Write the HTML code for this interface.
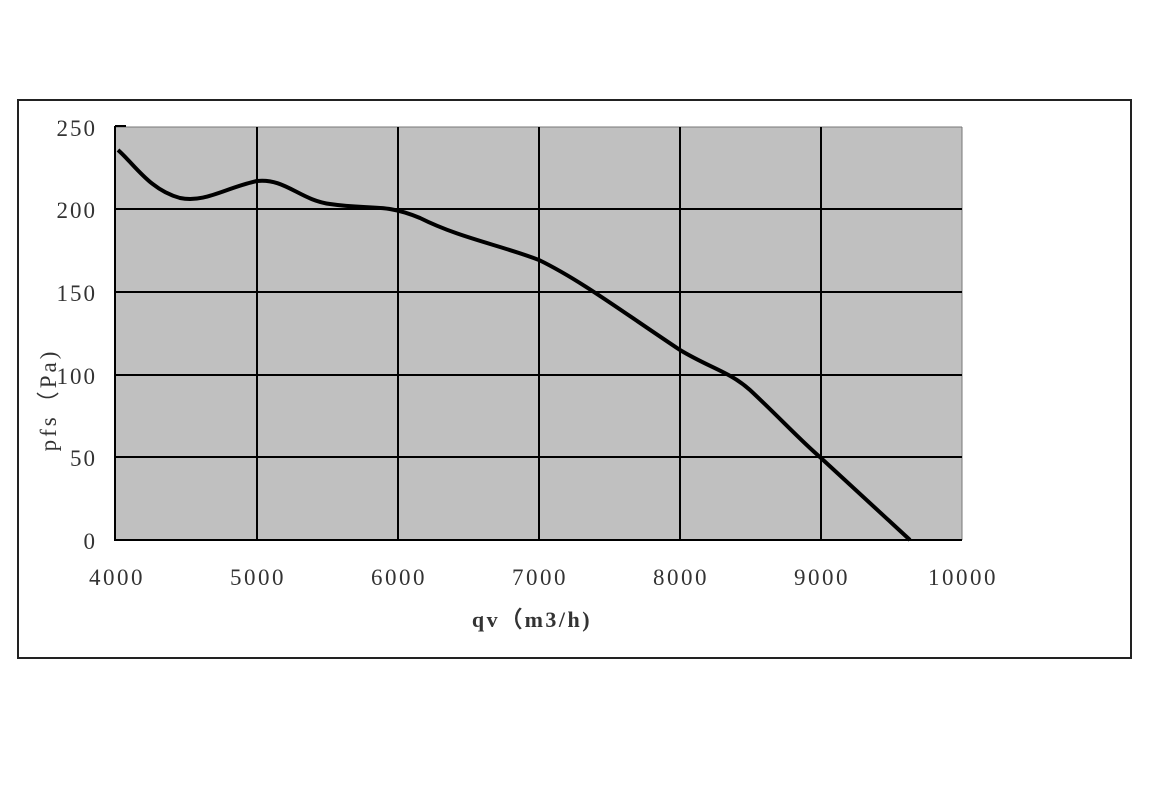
<!DOCTYPE html>
<html><head><style>body{margin:0;background:#fff}</style></head><body>
<svg width="1150" height="789" xmlns="http://www.w3.org/2000/svg" font-family="Liberation Serif, serif">
<rect x="18" y="100" width="1113" height="558" fill="#fff" stroke="#222" stroke-width="2"/>
<rect x="115" y="127" width="847" height="413" fill="#c0c0c0"/>
<g stroke="#000" stroke-width="2">
<line x1="115" y1="127" x2="962" y2="127" stroke="#777" stroke-width="1"/>
<line x1="962" y1="127" x2="962" y2="540" stroke="#777" stroke-width="1"/>
<line x1="115" y1="209" x2="962" y2="209"/>
<line x1="115" y1="292" x2="962" y2="292"/>
<line x1="115" y1="375" x2="962" y2="375"/>
<line x1="115" y1="457" x2="962" y2="457"/>
<line x1="115" y1="540" x2="962" y2="540"/>
<line x1="257" y1="127" x2="257" y2="540"/>
<line x1="398" y1="127" x2="398" y2="540"/>
<line x1="539" y1="127" x2="539" y2="540"/>
<line x1="680" y1="127" x2="680" y2="540"/>
<line x1="821" y1="127" x2="821" y2="540"/>
<line x1="115" y1="126" x2="115" y2="541"/>
<line x1="115" y1="126" x2="126" y2="126"/>
</g>
<path d="M118,150 C135,165 150,190 180,198 C205,203 225,188 257,181 C285,178 300,200 330,204 C370,210 385,203 420,218 C460,238 500,245 539,260 C580,280 620,310 680,350 C710,368 730,372 750,390 C780,418 800,440 821,458 L910,540" fill="none" stroke="#000" stroke-width="4"/>
<g font-size="23" fill="#333" text-anchor="end" letter-spacing="2">
<text x="97" y="136">250</text><text x="97" y="218">200</text><text x="97" y="301">150</text>
<text x="97" y="384">100</text><text x="97" y="466">50</text><text x="97" y="549">0</text>
</g>
<g font-size="23" fill="#333" text-anchor="middle" letter-spacing="2.5">
<text x="117" y="585">4000</text><text x="258" y="585">5000</text><text x="399" y="585">6000</text>
<text x="540" y="585">7000</text><text x="681" y="585">8000</text><text x="822" y="585">9000</text><text x="963" y="585">10000</text>
</g>
<text x="532" y="627" font-size="22" font-weight="bold" fill="#333" text-anchor="middle" letter-spacing="2.5">qv（m3/h)</text>
<text transform="translate(56,400) rotate(-90)" font-size="23" fill="#333" text-anchor="middle" letter-spacing="3">pfs（Pa)</text>
</svg>
</body></html>
